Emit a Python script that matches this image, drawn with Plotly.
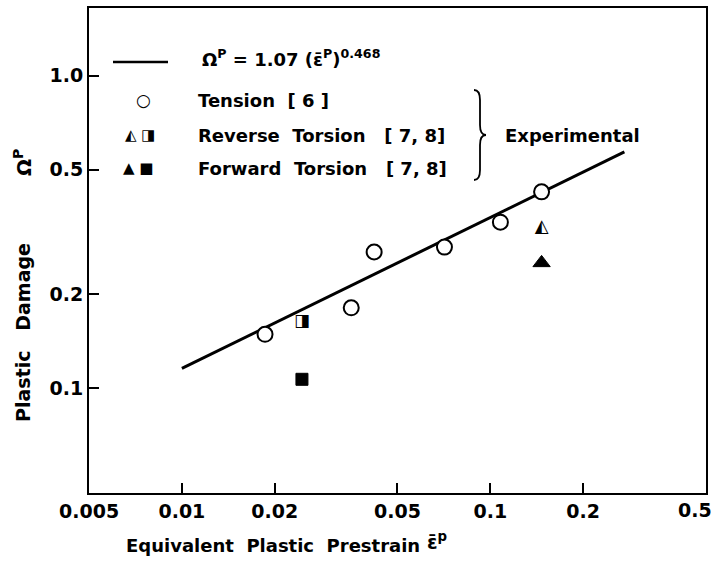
import plotly.graph_objects as go

# ---- data ----
tension_x = [0.0186, 0.0354, 0.0420, 0.0710, 0.1078, 0.1466]
tension_y = [0.149, 0.181, 0.273, 0.283, 0.340, 0.425]
rev_tri_x = [0.1466]
rev_tri_y = [0.328]
rev_sq_x = [0.0245]
rev_sq_y = [0.164]
fwd_tri_x = [0.1466]
fwd_tri_y = [0.252]
fwd_sq_x = [0.0245]
fwd_sq_y = [0.107]
fit_x = [0.01, 0.272]
fit_y = [0.116, 0.57]
x_ticks = [0.005, 0.01, 0.02, 0.05, 0.1, 0.2, 0.5]
x_tick_text = ["0.005", "0.01", "0.02", "0.05", "0.1", "0.2", "0.5"]
y_ticks = [0.1, 0.2, 0.5, 1.0]
y_tick_text = ["0.1", "0.2", "0.5", "1.0"]

FONT = "DejaVu Sans"
W, H = 716, 562
L, R, T, B = 89, 10, 8, 69
PW, PH = W - L - R, H - T - B


def X(px):
    return (px - L) / PW


def Y(py):
    return (H - B - py) / PH


# the last x label sits at the right page edge: it is drawn as an annotation
# (right-aligned) so that it stays fully inside the page
x_tick_labels = x_tick_text[:-1] + [""]

fig = go.Figure()
fig.add_trace(go.Scatter(x=fit_x, y=fit_y, mode="lines",
                         line=dict(color="black", width=3), hoverinfo="skip"))
fig.add_trace(go.Scatter(x=tension_x, y=tension_y, mode="markers",
                         marker=dict(symbol="circle", size=15, color="white",
                                     line=dict(color="black", width=2))))
fig.add_trace(go.Scatter(x=fwd_tri_x, y=fwd_tri_y, mode="markers",
                         marker=dict(symbol="triangle-up", size=15, color="black",
                                     line=dict(color="black", width=1))))
fig.add_trace(go.Scatter(x=fwd_sq_x, y=fwd_sq_y, mode="markers",
                         marker=dict(symbol="square", size=12, color="black",
                                     line=dict(color="black", width=1))))
fig.add_trace(go.Scatter(x=rev_tri_x, y=rev_tri_y, mode="text", text=["◭"],
                         textposition="middle center",
                         textfont=dict(family=FONT, size=18, color="black")))
fig.add_trace(go.Scatter(x=rev_sq_x, y=rev_sq_y, mode="text", text=["◨"],
                         textposition="middle center",
                         textfont=dict(family=FONT, size=17, color="black")))

TICKFONT = dict(family=FONT, size=19, color="black", weight="bold")
axis_common = dict(type="log", showline=True, linecolor="black", linewidth=2,
                   mirror=True, ticks="inside", ticklen=10, tickwidth=2,
                   tickcolor="black", showgrid=False, zeroline=False,
                   automargin=False, tickfont=TICKFONT)

fig.update_layout(
    width=W, height=H,
    margin=dict(l=L, r=R, t=T, b=B, autoexpand=False),
    paper_bgcolor="white", plot_bgcolor="white",
    showlegend=False,
    font=dict(family=FONT, color="black"),
    xaxis=dict(range=[-2.3012, -0.3008], tickvals=x_ticks, ticktext=x_tick_labels,
               **axis_common),
    yaxis=dict(range=[-1.334, 0.216], tickvals=y_ticks, ticktext=y_tick_text,
               **axis_common),
)

txt = dict(family=FONT, size=18, color="black", weight="bold")
ann = []
ann.append(dict(x=X(714), y=Y(510), xanchor="right", text=x_tick_text[-1], font=TICKFONT))
# axis titles
ann.append(dict(x=X(273), y=Y(545), text="Equivalent  Plastic  Prestrain",
                font=dict(family=FONT, size=18, color="black", weight="bold")))
ann.append(dict(x=X(437), y=Y(541), text="ε̄<sup>p</sup>",
                font=dict(family=FONT, size=19, color="black", weight="bold")))
ann.append(dict(x=X(23), y=Y(333), text="Plastic   Damage", textangle=-90,
                font=dict(family=FONT, size=19, color="black", weight="bold")))
ann.append(dict(x=X(23), y=Y(163), text="Ω<sup>P</sup>", textangle=-90,
                font=dict(family=FONT, size=20, color="black", weight="bold")))
# legend texts
ann.append(dict(x=X(200), y=Y(58), xanchor="left",
                text="Ω<sup>P</sup> = 1.07 (ε̄<sup>P</sup>)<sup>0.468</sup>", font=txt))
ann.append(dict(x=X(143), y=Y(100), text="○", font=dict(family=FONT, size=17, color="black")))
ann.append(dict(x=X(196), y=Y(100), xanchor="left", text="Tension  [ 6 ]", font=txt))
ann.append(dict(x=X(140), y=Y(135), text="◭ ◨", font=dict(family=FONT, size=15, color="black")))
ann.append(dict(x=X(196), y=Y(135), xanchor="left", text="Reverse  Torsion   [ 7, 8]", font=txt))
ann.append(dict(x=X(138), y=Y(168), text="▲ ■", font=dict(family=FONT, size=15, color="black")))
ann.append(dict(x=X(196), y=Y(168), xanchor="left", text="Forward  Torsion   [ 7, 8]", font=txt))
ann.append(dict(x=X(503), y=Y(135), xanchor="left", text="Experimental", font=txt))
for a in ann:
    a.setdefault("xanchor", "center")
    a.update(xref="paper", yref="paper", yanchor="middle", showarrow=False)
fig.update_layout(annotations=ann)

# legend line and brace
fig.add_shape(type="line", xref="paper", yref="paper",
              x0=X(113), x1=X(168), y0=Y(62), y1=Y(62),
              line=dict(color="black", width=2.5))


def P(px, py):
    return f"{X(px):.5f},{Y(py):.5f}"


brace = (f"M {P(474, 90)} Q {P(480, 90)} {P(480, 100)} L {P(480, 125)} "
         f"Q {P(480, 135)} {P(486, 135)} Q {P(480, 135)} {P(480, 145)} "
         f"L {P(480, 170)} Q {P(480, 180)} {P(474, 180)}")
fig.add_shape(type="path", xref="paper", yref="paper", path=brace,
              line=dict(color="black", width=1.8))

fig.write_html("out.html")
